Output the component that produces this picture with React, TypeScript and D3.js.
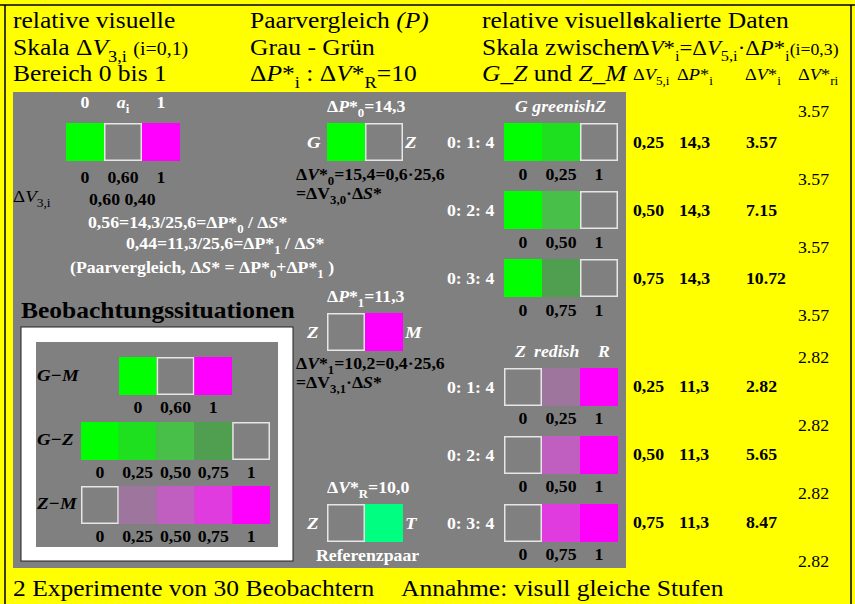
import { useEffect } from 'react';
import * as d3 from 'd3';

const SX = 1.11
const FONT = '"Liberation Serif", "Times New Roman", serif'
const GRAY = '#808080'

// header text (~ italic ~, _{sub}, #{small})
const headLeft = ['relative visuelle', 'Skala Δ~V~_{3,i} #{(i=0,1)}', 'Bereich 0 bis 1']
const headMid = ['Paarvergleich ~(P)~', 'Grau - Grün', 'Δ~P~*_{i} : Δ~V~*_{R}=10']
const headRight = ['relative visuelle', 'Skala zwischen', '~G_Z~ und ~Z_M~']
const headData = ['skalierte Daten', 'Δ~V~*_{i}=Δ~V~_{5,i}·Δ~P~*_{i}#{(i=0,3)}']
const tableHeads = ['Δ~V~_{5,i}', 'Δ~P~*_{i}', 'Δ~V~*_{i}', 'Δ~V~*_{ri}']

const topLabels = ['0', '0,60', '1']
const topColors = ['#00ff00', GRAY, '#ff00ff']
const stepLabels = ['0', '0,25', '0,50', '0,75', '1']
const gzColors = ['#00ff00', '#1ee01e', '#48bf48', '#509e50', GRAY]
const zmColors = [GRAY, '#9d759d', '#c05fc0', '#df3bdf', '#ff00ff']
const ratios = ['0: 1: 4', '0: 2: 4', '0: 3: 4']
const dV5 = ['0,25', '0,50', '0,75']
const dP = ['14,3', '11,3']
const dVgz = ['3.57', '7.15', '10.72']
const dVzm = ['2.82', '5.65', '8.47']
const dVrGz = ['3.57', '3.57', '3.57', '3.57']
const dVrZm = ['2.82', '2.82', '2.82', '2.82']

type Seg = { t: string, i?: boolean, sub?: boolean, small?: boolean }

function parse(s: string): Seg[] {
  const out: Seg[] = []
  let italic = false, buf = '', k = 0
  const flush = () => { if (buf) out.push({ t: buf, i: italic }); buf = '' }
  while (k < s.length) {
    const c = s[k]
    if (c === '~') { flush(); italic = !italic; k++ }
    else if ((c === '_' || c === '#') && s[k + 1] === '{') {
      flush()
      const e = s.indexOf('}', k)
      out.push(c === '_' ? { t: s.slice(k + 2, e), sub: true } : { t: s.slice(k + 2, e), small: true })
      k = e + 1
    }
    else { buf += c; k++ }
  }
  flush()
  return out
}

function txt(g: any, x: number, y: number, s: string, o: any = {}) {
  const size = o.size ?? 16
  const t = g.append('text')
    .attr('transform', `translate(${x},${y}) scale(${SX},1)`)
    .attr('font-size', size)
    .attr('font-family', FONT)
    .attr('font-weight', o.bold ? 'bold' : 'normal')
    .attr('font-style', o.italic ? 'italic' : 'normal')
    .attr('fill', o.fill ?? '#000')
    .attr('text-anchor', o.anchor ?? 'start')
    .style('white-space', 'pre')
  let shift = 0
  parse(s).forEach(seg => {
    const target = seg.sub ? size * 0.3 : 0
    const ts = t.append('tspan').text(seg.t)
    if (target !== shift) { ts.attr('dy', target - shift); shift = target }
    if (seg.i) ts.attr('font-style', 'italic')
    if (seg.sub) ts.attr('font-size', size * 0.72).attr('font-style', 'normal')
    if (seg.small) ts.attr('font-size', size * 0.78)
  })
}

function swatches(g: any, x: any, y: number, colors: string[]) {
  const w = x(1) - x(0)
  g.selectAll(null)
    .data(colors)
    .enter()
    .append('rect')
    .attr('x', (_: any, i: number) => x(i) + (colors[i] === GRAY ? 0.75 : 0))
    .attr('y', (_: any, i: number) => y + (colors[i] === GRAY ? 0.75 : 0))
    .attr('width', (_: any, i: number) => colors[i] === GRAY ? w - 1.5 : w)
    .attr('height', (_: any, i: number) => colors[i] === GRAY ? 36.5 : 38)
    .attr('fill', (d: string) => d)
    .attr('stroke', (d: string) => d === GRAY ? '#e6e6e6' : 'none')
    .attr('stroke-width', 1.5)
}

function labels(g: any, x: any, y: number, labs: string[], fill = '#000') {
  const w = x(1) - x(0)
  labs.forEach((l, i) => txt(g, x(i) + w / 2, y, l, { bold: true, anchor: 'middle', fill }))
}

function App() {
  useEffect(() => {
    drawChart('#pair-chart')
    // eslint-disable-next-line
  }, [])

  function drawChart(id: string) {
    const svg = d3.select(id)
    svg.selectAll('*').remove()

    svg.append('rect').attr('width', 855).attr('height', 604).attr('fill', '#ffff00')
    svg.append('path').attr('d', 'M0,5H855M5,5V604M851,5V604')
      .attr('stroke', '#000').attr('stroke-width', 1.5).attr('fill', 'none')

    // header
    const hy = [28, 55, 81]
    headLeft.forEach((s, i) => txt(svg, 13, hy[i], s, { size: 23 }))
    headMid.forEach((s, i) => txt(svg, 250, hy[i], s, { size: 23 }))
    headRight.forEach((s, i) => txt(svg, 482, hy[i], s, { size: 23 }))
    headData.forEach((s, i) => txt(svg, 635, hy[i], s, { size: i === 0 ? 23 : 20.5 }))
    const tableX = [633, 677, 745, 798]
    tableHeads.forEach((s, i) => txt(svg, tableX[i], 80, s, { size: 16.5 }))

    // gray panel
    svg.append('rect').attr('x', 13).attr('y', 92).attr('width', 613).attr('height', 476).attr('fill', GRAY)

    // top-left: scale definition
    const topX = d3.scaleLinear().domain([0, 3]).range([66, 180])
    swatches(svg, topX, 123, topColors)
    txt(svg, topX(0.5), 108, '0', { bold: true, fill: '#fff', anchor: 'middle' })
    txt(svg, topX(1.5), 108, '~a~_{i}', { bold: true, fill: '#fff', anchor: 'middle' })
    txt(svg, topX(2.5), 108, '1', { bold: true, fill: '#fff', anchor: 'middle' })
    labels(svg, topX, 183, topLabels)
    txt(svg, 13, 202, 'Δ~V~_{3,i}', { size: 17 })
    txt(svg, 89, 205, '0,60 0,40', { bold: true })
    txt(svg, 88, 228, '0,56=14,3/25,6=ΔP*_{0} / Δ~S~*', { bold: true, fill: '#fff' })
    txt(svg, 126, 249, '0,44=11,3/25,6=ΔP*_{1} / Δ~S~*', { bold: true, fill: '#fff' })
    txt(svg, 70, 273, '(Paarvergleich, Δ~S~* = ΔP*_{0}+ΔP*_{1} )', { bold: true, fill: '#fff' })

    // middle pairs
    const pairX = d3.scaleLinear().domain([0, 2]).range([327, 403])
    const pairs = [
      { top: 123, cols: ['#00ff00', GRAY], l: 'G', r: 'Z', head: `Δ~P~*_{0}=${dP[0]}`, hy: 112 },
      { top: 313, cols: [GRAY, '#ff00ff'], l: 'Z', r: 'M', head: `Δ~P~*_{1}=${dP[1]}`, hy: 302 },
      { top: 504, cols: [GRAY, '#00ff80'], l: 'Z', r: 'T', head: 'Δ~V~*_{R}=10,0', hy: 493 },
    ]
    pairs.forEach(p => {
      swatches(svg, pairX, p.top, p.cols)
      txt(svg, 327, p.hy, p.head, { bold: true, fill: '#fff' })
      txt(svg, 307, p.top + 25, p.l, { bold: true, italic: true, fill: '#fff', size: 17 })
      txt(svg, 405, p.top + 25, p.r, { bold: true, italic: true, fill: '#fff', size: 17 })
    })
    txt(svg, 296, 180, 'Δ~V~*_{0}=15,4=0,6·25,6', { bold: true })
    txt(svg, 296, 199, '=ΔV_{3,0}·Δ~S~*', { bold: true })
    txt(svg, 296, 369, 'Δ~V~*_{1}=10,2=0,4·25,6', { bold: true })
    txt(svg, 296, 388, '=ΔV_{3,1}·Δ~S~*', { bold: true })
    txt(svg, 316, 561, 'Referenzpaar', { bold: true, fill: '#fff' })

    // right: step rows
    const swX = d3.scaleLinear().domain([0, 3]).range([504, 618])
    const gzY = d3.scaleLinear().domain([0, 2]).range([123, 259])
    const zmY = d3.scaleLinear().domain([0, 2]).range([368, 504])
    txt(svg, 515, 112, 'G greenishZ', { bold: true, italic: true, fill: '#fff' })
    txt(svg, 515, 357, 'Z', { bold: true, italic: true, fill: '#fff' })
    txt(svg, 534, 357, 'redish', { bold: true, italic: true, fill: '#fff' })
    txt(svg, 598, 357, 'R', { bold: true, italic: true, fill: '#fff' })

    const valX = [633, 679, 746]
    ratios.forEach((r, i) => {
      const y1 = gzY(i), y2 = zmY(i)
      swatches(svg, swX, y1, ['#00ff00', gzColors[i + 1], GRAY])
      swatches(svg, swX, y2, [GRAY, zmColors[i + 1], '#ff00ff'])
      txt(svg, 447, y1 + 25, r, { bold: true, fill: '#fff' })
      txt(svg, 447, y2 + 25, r, { bold: true, fill: '#fff' })
      labels(svg, swX, y1 + 57, ['0', stepLabels[i + 1], '1'])
      labels(svg, swX, y2 + 56, ['0', stepLabels[i + 1], '1'])
      ;[dV5[i], dP[0], dVgz[i]].forEach((v, j) => txt(svg, valX[j], y1 + 25, v, { bold: true }))
      ;[dV5[i], dP[1], dVzm[i]].forEach((v, j) => txt(svg, valX[j], y2 + 24, v, { bold: true }))
    })
    dVrGz.forEach((v, i) => txt(svg, 798, gzY(i) - 6, v))
    dVrZm.forEach((v, i) => txt(svg, 798, zmY(i) - 5, v))

    // Beobachtungssituationen
    txt(svg, 21, 318, 'Beobachtungssituationen', { size: 23, bold: true })
    svg.append('rect').attr('x', 21).attr('y', 327).attr('width', 272).attr('height', 234)
      .attr('fill', '#fff').attr('stroke', '#222').attr('stroke-width', 1)
    svg.append('rect').attr('x', 36).attr('y', 342).attr('width', 242).attr('height', 205).attr('fill', GRAY)
    const boxX = d3.scaleLinear().domain([0, 5]).range([81, 270])
    const gmX = d3.scaleLinear().domain([0, 3]).range([119, 232])
    swatches(svg, gmX, 357, topColors)
    labels(svg, gmX, 413, topLabels)
    txt(svg, 37, 381, 'G−M', { bold: true, italic: true, size: 17 })
    swatches(svg, boxX, 422, gzColors)
    labels(svg, boxX, 478, stepLabels)
    txt(svg, 37, 445, 'G−Z', { bold: true, italic: true, size: 17 })
    swatches(svg, boxX, 486, zmColors)
    labels(svg, boxX, 542, stepLabels)
    txt(svg, 37, 509, 'Z−M', { bold: true, italic: true, size: 17 })

    // footer
    txt(svg, 13, 596, '2 Experimente von 30 Beobachtern', { size: 23 })
    txt(svg, 401, 596, 'Annahme: visull gleiche Stufen', { size: 23 })
  }

  return (
    <svg id='pair-chart' width={855} height={604} style={{ position: 'absolute', left: 0, top: 0 }}>
    </svg>
  )
}

export default App
